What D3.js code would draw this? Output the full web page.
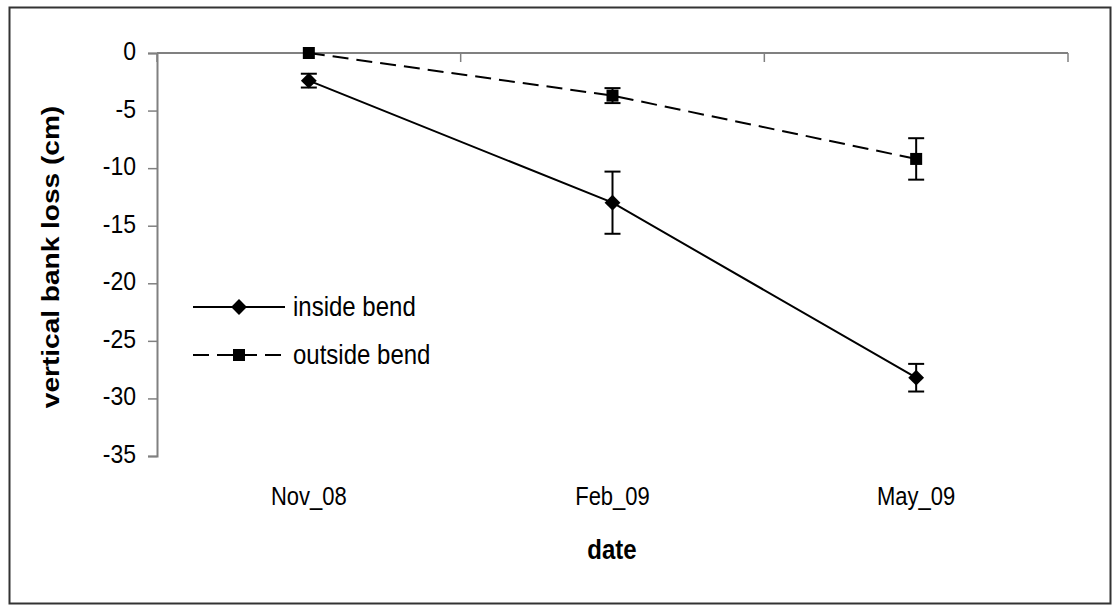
<!DOCTYPE html>
<html>
<head>
<meta charset="utf-8">
<script src="https://cdn.jsdelivr.net/npm/d3@7"></script>
<style>
  html, body { margin: 0; padding: 0; background: #fff; }
  svg { display: block; font-family: Arial, "Liberation Sans", sans-serif; }
</style>
</head>
<body>
<svg id="chart" width="1113" height="605"></svg>
<script>
const DATES = ['Nov_08', 'Feb_09', 'May_09'];
const INSIDE = [-2.4, -13.0, -28.2];
const INSIDE_ERR = [0.6, 2.7, 1.2];
const OUTSIDE = [0, -3.7, -9.2];
const OUTSIDE_ERR = [0, 0.65, 1.8];
const Y_TICKS = [0, -5, -10, -15, -20, -25, -30, -35];

const series = [
  {name: 'inside bend', values: INSIDE, err: INSIDE_ERR, dash: null, marker: 'diamond'},
  {name: 'outside bend', values: OUTSIDE, err: OUTSIDE_ERR, dash: '16,8', marker: 'square'},
];

const svg = d3.select('#chart');
const plot = {left: 157, right: 1068, top: 53, bottom: 456};
// text in the source is a little taller than it is wide
const STRETCH = 1.15;

// outer frame
svg.append('rect')
   .attr('x', 9.5).attr('y', 7.5)
   .attr('width', 1101).attr('height', 596)
   .attr('fill', 'none').attr('stroke', '#333').attr('stroke-width', 2);

const x = d3.scaleBand().domain(DATES).range([plot.left, plot.right]);
const y = d3.scaleLinear().domain([-35, 0]).range([plot.bottom, plot.top]);
const cx = (d) => x(d) + x.bandwidth() / 2;

// put a text at (tx, ty) with a vertical stretch
function label(parent, tx, ty, str, size, bold, anchor) {
  return parent.append('text')
     .attr('transform', 'translate(' + tx + ',' + ty + ') scale(1,' + STRETCH + ')')
     .attr('text-anchor', anchor || 'middle')
     .attr('font-size', size)
     .attr('font-weight', bold ? 'bold' : 'normal')
     .attr('fill', '#000')
     .text(str);
}

// y axis
const yAxis = svg.append('g')
   .attr('transform', 'translate(' + plot.left + ',0)')
   .call(d3.axisLeft(y).tickValues(Y_TICKS).tickSize(9).tickFormat(''));
yAxis.select('.domain').attr('stroke', '#808080').attr('stroke-width', 2);
yAxis.selectAll('.tick line').attr('stroke', '#808080').attr('stroke-width', 1.5);
Y_TICKS.forEach((t) => {
  label(svg, plot.left - 21, y(t) + 7, String(t), 23, false, 'end');
});

// x axis crossing at 0, with labels placed low
const xAxis = svg.append('g')
   .attr('transform', 'translate(0,' + y(0) + ')');
xAxis.append('line')
     .attr('x1', plot.left).attr('x2', plot.right)
     .attr('stroke', '#808080').attr('stroke-width', 2);
xAxis.selectAll('.xtick')
     .data(DATES.concat(['end']))
     .enter().append('line')
     .attr('x1', (d, i) => i < DATES.length ? x(d) : plot.right)
     .attr('x2', (d, i) => i < DATES.length ? x(d) : plot.right)
     .attr('y1', 0).attr('y2', 9)
     .attr('stroke', '#808080').attr('stroke-width', 1.5);
DATES.forEach((d) => label(svg, cx(d), 505, d, 22, false));

// axis titles
label(svg, 612, 559, 'date', 24, true);
svg.append('text')
   .attr('transform', 'translate(59,257) scale(1,1.22) rotate(-90)')
   .attr('text-anchor', 'middle')
   .attr('font-size', 23).attr('font-weight', 'bold')
   .text('vertical bank loss (cm)');

function drawMarker(g, type, px, py) {
  if (type === 'diamond') {
    g.append('path')
     .attr('d', d3.symbol().type(d3.symbolDiamond2).size(160)())
     .attr('transform', 'translate(' + px + ',' + py + ')')
     .attr('fill', '#000');
  } else {
    g.append('rect')
     .attr('x', px - 6).attr('y', py - 6)
     .attr('width', 12).attr('height', 12)
     .attr('fill', '#000');
  }
}

const line = d3.line().x((d) => cx(d.date)).y((d) => y(d.value));

series.forEach((s) => {
  const pts = DATES.map((d, i) => ({date: d, value: s.values[i], err: s.err[i]}));
  const g = svg.append('g');
  g.append('path')
   .datum(pts)
   .attr('d', line)
   .attr('fill', 'none')
   .attr('stroke', '#000')
   .attr('stroke-width', 2)
   .attr('stroke-dasharray', s.dash);
  pts.forEach((p) => {
    if (p.err > 0) {
      const px = cx(p.date);
      const y1 = y(p.value + p.err), y2 = y(p.value - p.err);
      g.append('line').attr('x1', px).attr('x2', px).attr('y1', y1).attr('y2', y2)
       .attr('stroke', '#000').attr('stroke-width', 2);
      [y1, y2].forEach((yy) => {
        g.append('line').attr('x1', px - 8).attr('x2', px + 8).attr('y1', yy).attr('y2', yy)
         .attr('stroke', '#000').attr('stroke-width', 2);
      });
    }
    drawMarker(g, s.marker, cx(p.date), y(p.value));
  });
});

// legend
const legend = svg.append('g');
series.forEach((s, i) => {
  const ly = 307 + i * 48;
  legend.append('line')
        .attr('x1', 193).attr('x2', 285).attr('y1', ly).attr('y2', ly)
        .attr('stroke', '#000').attr('stroke-width', 2)
        .attr('stroke-dasharray', s.dash);
  drawMarker(legend, s.marker, 239, ly);
  label(legend, 293, ly + 9, s.name, 24, false, 'start');
});
</script>
</body>
</html>
